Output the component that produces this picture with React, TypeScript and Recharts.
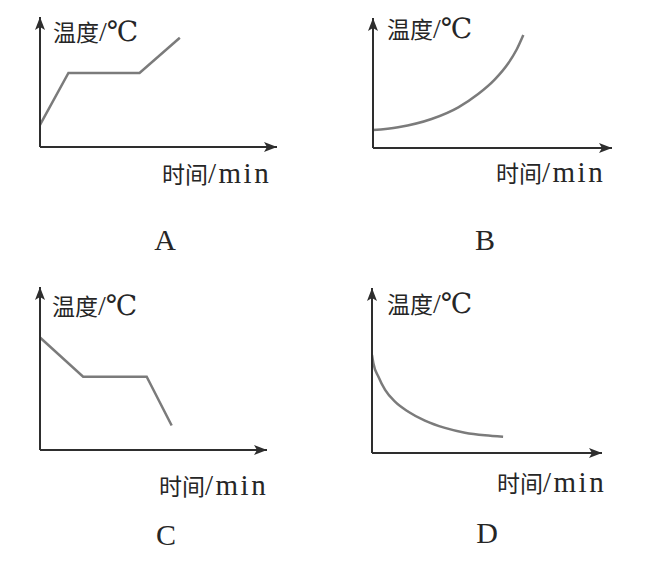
import { LineChart, Line, XAxis, YAxis } from "recharts";

const W = 650;
const H = 564;
const AXIS = "#2e2e2e";
const CURVE = "#7b7b7b";
const INK = "#262626";

// 横轴“时间”、纵轴“温度”均按各自坐标轴长度的百分比读取
// A：升温 -> 温度不变 -> 再升温
const timeA = [0, 12, 42, 59];
const tempA = [17, 57, 57, 84];

// B：持续升温，越来越快
const timeB = [0, 10.5, 24.5, 35.7, 44, 51, 56.6, 60, 62.9];
const tempB = [13.8, 16, 22.3, 31.3, 41.5, 52.8, 65.2, 75.4, 87];

// C：降温 -> 温度不变 -> 再降温
const timeC = [0, 19, 47, 58];
const tempC = [69, 45, 45, 15];

// D：持续降温，越来越慢
const timeD = [0, 0.6, 2.8, 5.7, 10, 15.8, 23, 31.7, 40.4, 49.1, 57];
const tempD = [59.4, 54.4, 46.2, 38.2, 31.1, 25, 19.6, 15.2, 12.3, 10.7, 9.9];

const letters = ["A", "B", "C", "D"];
const yTitle = "温度";
const yUnit = "/℃";
const xTitle = "时间";
const xUnit = "/min";

const toData = (t: number[], v: number[]) => t.map((x, i) => ({ t: x, v: v[i] }));

// margin 中 left / bottom 各少 1px，留给 1px 宽的坐标轴区域
const panels = [
  {
    data: toData(timeA, tempA),
    curve: "linear",
    margin: { left: 39, right: 373, top: 17, bottom: 416 },
    yLabel: [53, 41],
    xLabel: [162, 183],
    letter: [165, 250],
  },
  {
    data: toData(timeB, tempB),
    curve: "monotone",
    margin: { left: 372, right: 38, top: 18, bottom: 415 },
    yLabel: [387, 38],
    xLabel: [496, 182],
    letter: [485, 250],
  },
  {
    data: toData(timeC, tempC),
    curve: "linear",
    margin: { left: 39, right: 383, top: 287, bottom: 113 },
    yLabel: [52, 315],
    xLabel: [159, 495],
    letter: [166, 545],
  },
  {
    data: toData(timeD, tempD),
    curve: "monotone",
    margin: { left: 371, right: 48, top: 288, bottom: 110 },
    yLabel: [387, 313],
    xLabel: [497, 492],
    letter: [487, 543],
  },
];

const CJK = '"Noto Sans CJK SC", sans-serif';
const LATIN = '"Liberation Serif", "DejaVu Serif", "Noto Sans CJK SC", serif';

function Panel({ data, curve, margin }: any) {
  return (
    <div style={{ position: "absolute", left: 0, top: 0 }}>
      <LineChart width={W} height={H} data={data} margin={margin}>
        <XAxis
          type="number"
          dataKey="t"
          domain={[0, 100]}
          allowDataOverflow
          height={1}
          tick={false}
          tickLine={false}
          axisLine={{ stroke: AXIS, strokeWidth: 2, markerEnd: "url(#arrow)" }}
        />
        <YAxis
          type="number"
          domain={[0, 100]}
          allowDataOverflow
          width={1}
          tick={false}
          tickLine={false}
          axisLine={{ stroke: AXIS, strokeWidth: 2, markerStart: "url(#arrow)" }}
        />
        <Line
          dataKey="v"
          type={curve}
          stroke={CURVE}
          strokeWidth={2.5}
          dot={false}
          activeDot={false}
          isAnimationActive={false}
        />
      </LineChart>
    </div>
  );
}

export default function App() {
  return (
    <div
      style={{
        position: "absolute",
        left: 0,
        top: 0,
        width: W,
        height: H,
        background: "#fff",
        overflow: "hidden",
      }}
    >
      <svg width={0} height={0} style={{ position: "absolute" }}>
        <defs>
          <marker
            id="arrow"
            markerUnits="userSpaceOnUse"
            markerWidth={14}
            markerHeight={11}
            refX={13}
            refY={5}
            orient="auto-start-reverse"
            overflow="visible"
          >
            <path d="M0,0 L13,5 L0,10 L3,5 Z" fill={AXIS} />
          </marker>
        </defs>
      </svg>

      {panels.map((p, i) => (
        <Panel key={i} {...p} />
      ))}

      <svg
        width={W}
        height={H}
        style={{ position: "absolute", left: 0, top: 0, pointerEvents: "none" }}
      >
        {panels.map((p, i) => (
          <g key={i} fill={INK}>
            <text x={p.yLabel[0]} y={p.yLabel[1]}>
              <tspan fontFamily={CJK} fontSize={23}>{yTitle}</tspan>
              <tspan fontFamily={LATIN} fontSize={28}>{yUnit}</tspan>
            </text>
            <text x={p.xLabel[0]} y={p.xLabel[1]}>
              <tspan fontFamily={CJK} fontSize={23}>{xTitle}</tspan>
              <tspan fontFamily={LATIN} fontSize={29} letterSpacing={2.5}>{xUnit}</tspan>
            </text>
            <text
              x={p.letter[0]}
              y={p.letter[1]}
              textAnchor="middle"
              fontFamily={LATIN}
              fontSize={30}
            >
              {letters[i]}
            </text>
          </g>
        ))}
      </svg>
    </div>
  );
}
